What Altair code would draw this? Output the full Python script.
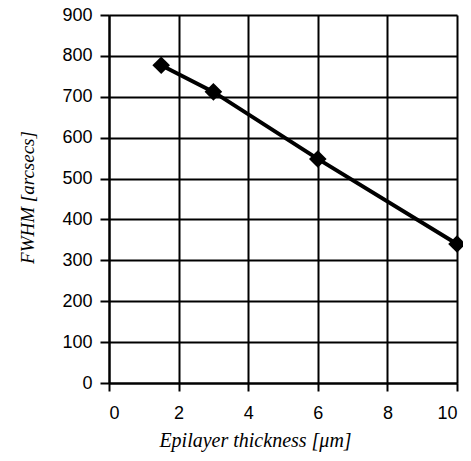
import altair as alt
import pandas as pd

thickness = [1.5, 3, 6, 10]
fwhm = [777, 712, 548, 340]

df = pd.DataFrame({"x": thickness, "y": fwhm})

xs = alt.Scale(domain=[0, 10], nice=False, zero=False)
ys = alt.Scale(domain=[0, 900], nice=False)

xax = alt.Axis(values=[0, 2, 4, 6, 8, 10], title="Epilayer thickness [μm]",
               grid=True, gridColor="black", gridWidth=2, gridOpacity=1,
               domainColor="black", domainWidth=2, tickColor="black", tickSize=8,
               tickWidth=2, labelFont="Liberation Sans", labelFontSize=18,
               labelColor="black", labelPadding=13,
               titleFont="Liberation Serif", titleFontStyle="italic",
               titleFontWeight="normal", titleFontSize=20, titleColor="black",
               titleX=146, titleY=57, titleAlign="center", titleBaseline="middle")
yax = alt.Axis(values=list(range(0, 901, 100)), title="FWHM [arcsecs]",
               grid=True, gridColor="black", gridWidth=2, gridOpacity=1,
               domainColor="black", domainWidth=2, tickColor="black", tickSize=9,
               tickWidth=2, labelFont="Liberation Sans", labelFontSize=18,
               labelColor="black", labelPadding=8,
               titleFont="Liberation Serif", titleFontStyle="italic",
               titleFontWeight="normal", titleFontSize=19, titleColor="black",
               titleX=-82, titleY=182, titleAlign="center", titleBaseline="middle")

base = alt.Chart(df).encode(
    x=alt.X("x:Q", scale=xs, axis=xax),
    y=alt.Y("y:Q", scale=ys, axis=yax),
)

line = base.mark_line(color="black", strokeWidth=4)
pts = base.mark_point(shape="diamond", filled=True, color="black", size=310, opacity=1)

chart = (line + pts).properties(
    width=348, height=368,
    autosize=alt.AutoSizeParams(type="none"),
    padding={"left": 101, "top": 7, "right": 6, "bottom": 70},
).configure_view(stroke=None).configure(background="white")

chart.save("out.html", embed_options={"renderer": "svg", "actions": False})
